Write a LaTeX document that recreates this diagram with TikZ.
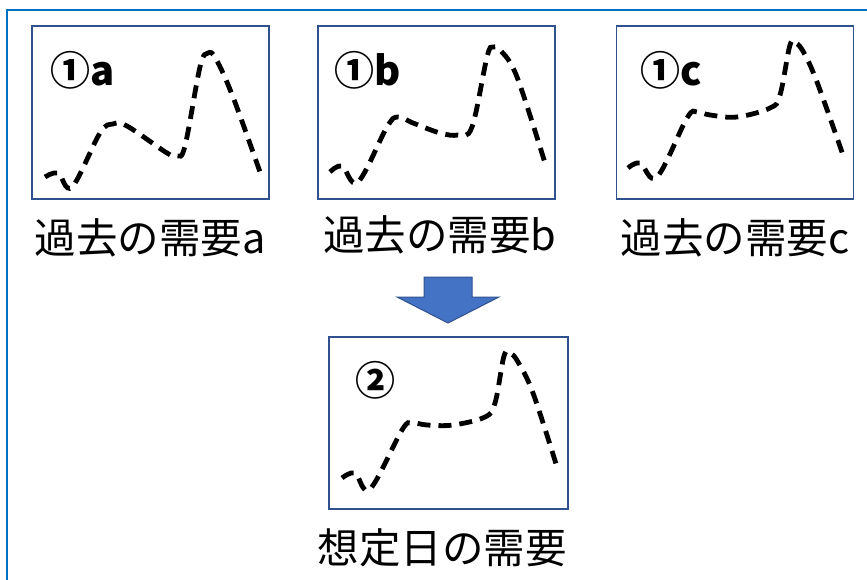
\documentclass[tikz,border=0pt]{standalone}
\usepackage{fontspec}
\setmainfont{Noto Sans CJK JP}
\definecolor{frameblue}{HTML}{0070C0}
\definecolor{boxblue}{HTML}{2F528F}
\definecolor{arrowblue}{HTML}{4472C4}
\tikzset{
  chartbox/.style = {draw = boxblue, line width = 1.8pt, minimum width = 237pt, minimum height = 173pt, inner sep = 0pt},
  demand/.style = {line width = 4.8pt, dash pattern = on 13pt off 8pt},
  tag/.style = {anchor = west, inner sep = 0pt, font = \fontsize{40}{46}\selectfont\bfseries},
  caption/.style = {inner sep = 0pt, font = \fontsize{41.5}{48}\selectfont}
}

\begin{document}
\begin{tikzpicture}[x = 1pt, y = -1pt]
\useasboundingbox (0, 0) rectangle (867, 580);
%\draw [very thin, color = gray](0, 0) grid (867, 580);
\draw [frameblue, line width = 2.5pt] (7, 585) to (7, 10) to (872, 10);
% past demand
\node [chartbox] (boxa) at (150.5, 112.5) {};
\node [chartbox] (boxb) at (436.5, 112.5) {};
\node [chartbox] (boxc) at (735, 112.5) {};
\node [tag] (taga) at (50, 70) {①a};
\node [tag] (tagb) at (334, 70) {①b};
\node [tag] (tagc) at (640, 70) {①c};
\node [caption] (capa) at (150, 238) {過去の需要a};
\node [caption] (capb) at (440, 235) {過去の需要b};
\node [caption] (capc) at (735, 238) {過去の需要c};
\draw [demand] plot [smooth, tension = 0.6] coordinates {(45,177) (58,173) (72,187) (100,133) (113,124) (127,126) (167,153) (177,156) (185,146) (200,67) (208,53) (216,59) (233,97) (260,172)};
\draw [demand] plot [smooth, tension = 0.6] coordinates {(330,172) (342,166) (358,182) (387,127) (398,117) (413,123) (440,133) (458,135) (472,127) (487,57) (493,47) (501,51) (517,77) (545,163)};
\draw [demand] plot [smooth, tension = 0.6] coordinates {(628,168) (640,163) (657,177) (687,118) (697,112) (710,115) (737,117) (770,108) (780,95) (790,45) (796,43) (804,53) (817,82) (843,155)};
% arrow
\draw [fill = arrowblue, draw = boxblue, line width = 1pt] (424, 277) -- (472, 277) -- (472, 297) -- (499, 297) -- (448, 323) -- (397, 297) -- (424, 297) -- cycle;
% expected day
\node [chartbox, minimum width = 239pt, minimum height = 172pt] (boxd) at (448.5, 423) {};
\node [tag] (tagd) at (355, 380) {②};
\node [caption] (capd) at (442, 548) {想定日の需要};
\draw [demand] plot [smooth, tension = 0.6] coordinates {(342,478) (355,473) (370,489) (402,430) (412,423) (427,425) (453,425) (485,417) (495,403) (504,356) (510,353) (518,362) (533,393) (557,467)};
\end{tikzpicture}
\end{document}
